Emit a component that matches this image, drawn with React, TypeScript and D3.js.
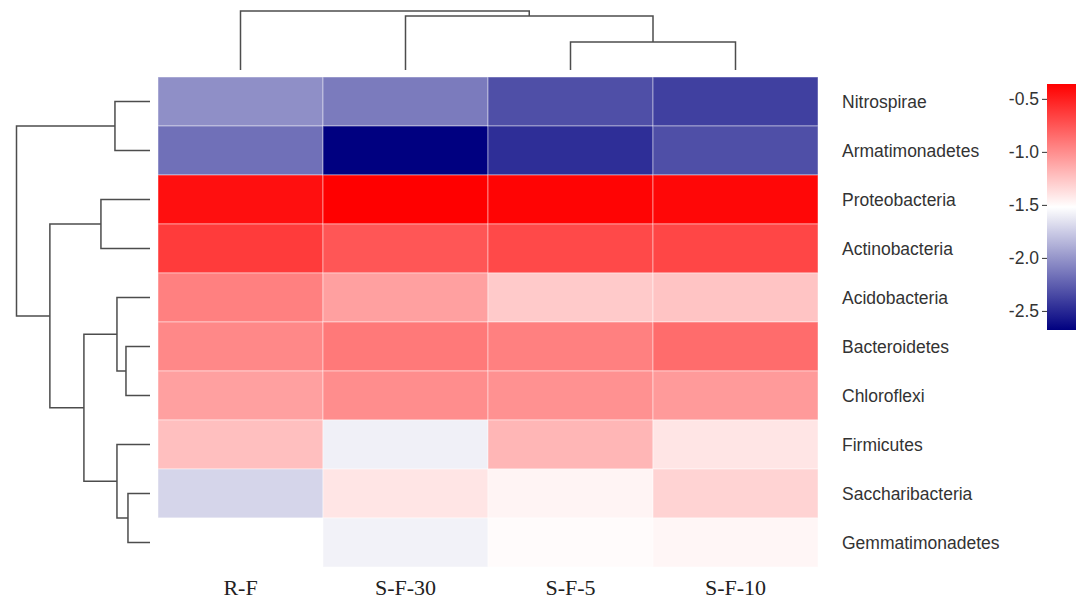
import React, { useEffect, useRef } from "react";
import * as d3 from "d3";

const width = 1079;
const height = 600;

const samples = ["R-F", "S-F-30", "S-F-5", "S-F-10"];
const phyla = [
  "Nitrospirae",
  "Armatimonadetes",
  "Proteobacteria",
  "Actinobacteria",
  "Acidobacteria",
  "Bacteroidetes",
  "Chloroflexi",
  "Firmicutes",
  "Saccharibacteria",
  "Gemmatimonadetes",
];

// log10 relative abundance, one array per sample, in phyla order
const rfValues = [-2.03, -2.17, -0.43, -0.63, -0.94, -0.98, -1.09, -1.23, -1.71, -1.52];
const sf30Values = [-2.12, -2.68, -0.36, -0.75, -1.09, -0.91, -1.0, -1.59, -1.4, -1.58];
const sf5Values = [-2.32, -2.47, -0.38, -0.69, -1.28, -0.94, -1.02, -1.19, -1.47, -1.5];
const sf10Values = [-2.39, -2.32, -0.39, -0.68, -1.25, -0.85, -1.06, -1.4, -1.32, -1.48];
const sampleValues = [rfValues, sf30Values, sf5Values, sf10Values];

const colorTicks = [-0.5, -1.0, -1.5, -2.0, -2.5];
const colorDomain = [-2.68, -0.36];

type Tree = string | { h: number; children: Tree[] };

// clustering trees (merge heights)
const sampleTree: Tree = {
  h: 3.0,
  children: ["R-F", { h: 2.75, children: ["S-F-30", { h: 1.42, children: ["S-F-5", "S-F-10"] }] }],
};
const phylaTree: Tree = {
  h: 4.0,
  children: [
    { h: 1.05, children: ["Nitrospirae", "Armatimonadetes"] },
    {
      h: 3.0,
      children: [
        { h: 1.47, children: ["Proteobacteria", "Actinobacteria"] },
        {
          h: 1.98,
          children: [
            { h: 0.99, children: ["Acidobacteria", { h: 0.72, children: ["Bacteroidetes", "Chloroflexi"] }] },
            { h: 0.99, children: ["Firmicutes", { h: 0.66, children: ["Saccharibacteria", "Gemmatimonadetes"] }] },
          ],
        },
      ],
    },
  ],
};

const buildDendro = (tree: Tree, band: d3.ScaleBand<string>) => {
  const root = d3.hierarchy<Tree>(tree, (d) => (typeof d === "string" ? null : d.children));
  const pos = new Map<any, number>();
  const hgt = new Map<any, number>();
  root.eachAfter((n: any) => {
    if (typeof n.data === "string") {
      pos.set(n, (band(n.data) || 0) + band.bandwidth() / 2);
      hgt.set(n, 0);
    } else {
      const c = n.children;
      pos.set(n, (pos.get(c[0])! + pos.get(c[c.length - 1])!) / 2);
      hgt.set(n, n.data.h);
    }
  });
  const elbows: { p0: number; h0: number; p1: number; h1: number; h: number }[] = [];
  root.each((n: any) => {
    if (!n.children) return;
    const a = n.children[0];
    const b = n.children[n.children.length - 1];
    elbows.push({ p0: pos.get(a)!, h0: hgt.get(a)!, p1: pos.get(b)!, h1: hgt.get(b)!, h: hgt.get(n)! });
  });
  return elbows;
};

const App = () => {
  const ref = useRef<SVGSVGElement>(null);

  useEffect(() => {
    const svg = d3.select(ref.current);
    svg.selectAll("*").remove();

    const x = d3.scaleBand<string>().domain(samples).range([158, 818]);
    const y = d3.scaleBand<string>().domain(phyla).range([77, 567]);
    const mid = (colorDomain[0] + colorDomain[1]) / 2;
    const color = d3
      .scaleLinear<string>()
      .domain([colorDomain[0], mid, colorDomain[1]])
      .range(["#000080", "#ffffff", "#ff0000"])
      .interpolate(d3.interpolateRgb);

    // cells
    const cells = samples.flatMap((s, i) => phyla.map((p, j) => ({ s, p, v: sampleValues[i][j] })));
    svg
      .append("g")
      .selectAll("rect")
      .data(cells)
      .join("rect")
      .attr("x", (d) => x(d.s)!)
      .attr("y", (d) => y(d.p)!)
      .attr("width", x.bandwidth())
      .attr("height", y.bandwidth())
      .attr("fill", (d) => color(d.v))
      .attr("stroke", "#fff")
      .attr("stroke-opacity", 0.45)
      .attr("stroke-width", 1);

    // top dendrogram
    const topH = d3.scaleLinear().domain([0, 3.0]).range([70, 11]);
    svg
      .append("g")
      .selectAll("path")
      .data(buildDendro(sampleTree, x))
      .join("path")
      .attr("fill", "none")
      .attr("stroke", "#4d4d4d")
      .attr("stroke-width", 1.5)
      .attr("d", (e) => `M${e.p0},${topH(e.h0)}V${topH(e.h)}H${e.p1}V${topH(e.h1)}`);

    // left dendrogram
    const leftH = d3.scaleLinear().domain([0, 4.0]).range([150, 16.5]);
    svg
      .append("g")
      .selectAll("path")
      .data(buildDendro(phylaTree, y))
      .join("path")
      .attr("fill", "none")
      .attr("stroke", "#4d4d4d")
      .attr("stroke-width", 1.5)
      .attr("d", (e) => `M${leftH(e.h0)},${e.p0}H${leftH(e.h)}V${e.p1}H${leftH(e.h1)}`);

    // row labels
    svg
      .append("g")
      .selectAll("text")
      .data(phyla)
      .join("text")
      .attr("x", 842)
      .attr("y", (d) => y(d)! + y.bandwidth() / 2)
      .attr("dy", "0.35em")
      .attr("font-family", "Liberation Sans, Arial, sans-serif")
      .attr("font-size", 17.5)
      .attr("fill", "#333")
      .text((d) => d);

    // column labels
    svg
      .append("g")
      .selectAll("text")
      .data(samples)
      .join("text")
      .attr("x", (d) => x(d)! + x.bandwidth() / 2)
      .attr("y", 595)
      .attr("text-anchor", "middle")
      .attr("font-family", "Liberation Serif, Times New Roman, serif")
      .attr("font-size", 22)
      .attr("fill", "#222")
      .text((d) => d);

    // colour bar
    const barY = d3.scaleLinear().domain(colorDomain).range([330, 84]);
    const grad = svg
      .append("defs")
      .append("linearGradient")
      .attr("id", "cbar")
      .attr("x1", 0)
      .attr("y1", 1)
      .attr("x2", 0)
      .attr("y2", 0);
    grad
      .selectAll("stop")
      .data(d3.range(0, 1.0001, 0.05))
      .join("stop")
      .attr("offset", (t) => t)
      .attr("stop-color", (t) => color(colorDomain[0] + t * (colorDomain[1] - colorDomain[0])));
    svg
      .append("rect")
      .attr("x", 1047)
      .attr("y", barY(colorDomain[1]))
      .attr("width", 29)
      .attr("height", barY(colorDomain[0]) - barY(colorDomain[1]))
      .attr("fill", "url(#cbar)");

    const axis = svg
      .append("g")
      .attr("transform", "translate(1047,0)")
      .call(
        d3
          .axisLeft(barY)
          .tickValues(colorTicks)
          .tickFormat((d) => (+d).toFixed(1))
          .tickSize(5)
          .tickPadding(3)
      );
    axis.select(".domain").remove();
    axis.selectAll(".tick line").attr("stroke", "#333");
    axis
      .selectAll(".tick text")
      .attr("font-family", "Liberation Sans, Arial, sans-serif")
      .attr("font-size", 17.5)
      .attr("fill", "#333");
  }, []);

  return (
    <svg
      ref={ref}
      width={width}
      height={height}
      style={{ position: "absolute", left: 0, top: 0, background: "#fff" }}
    ></svg>
  );
};

export default App;
